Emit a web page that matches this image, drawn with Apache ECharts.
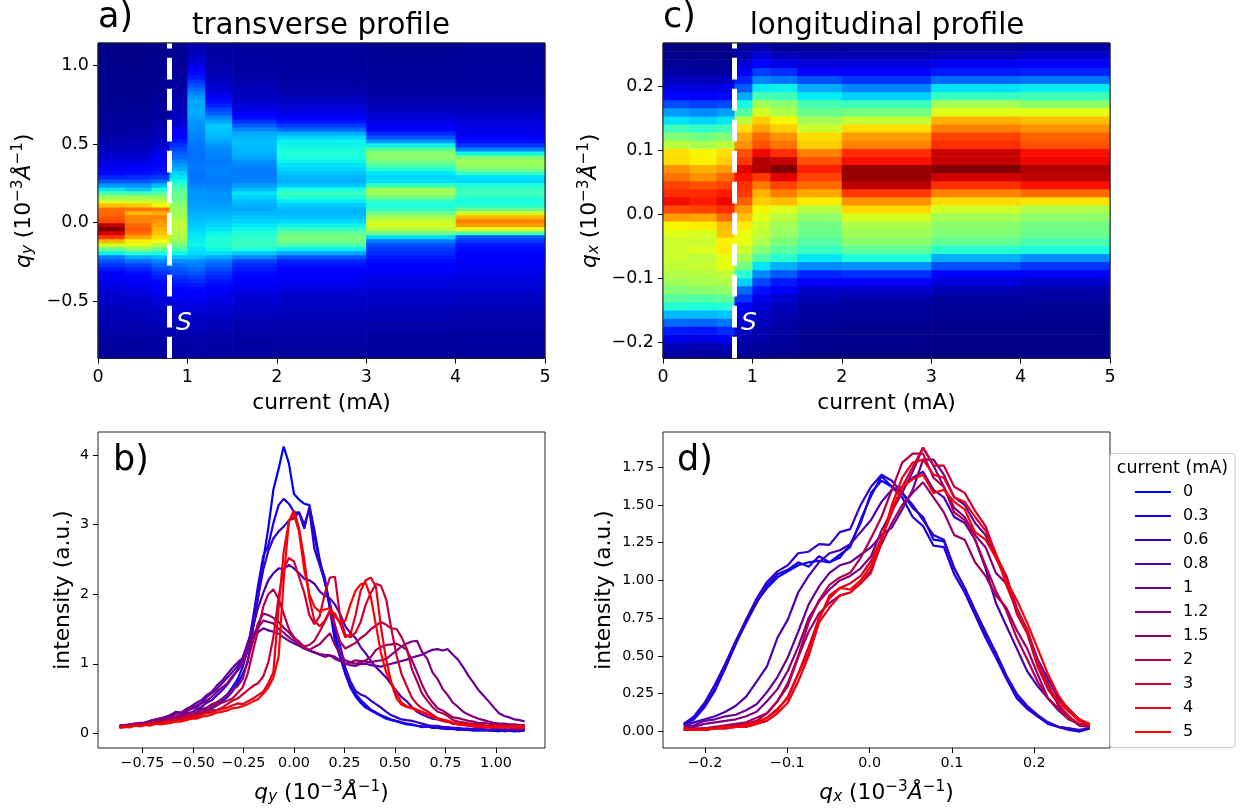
<!DOCTYPE html>
<html><head><meta charset="utf-8">
<script src="https://cdn.jsdelivr.net/npm/echarts@6/dist/echarts.min.js"></script>
<style>html,body{margin:0;padding:0;background:#fff}#c{width:1249px;height:810px}</style>
</head><body><div id="c"></div>
<script>
const currents=[0,0.3,0.6,0.8,1,1.2,1.5,2,3,4,5];
const currentLabels=['0','0.3','0.6','0.8','1','1.2','1.5','2','3','4','5'];
const qyValues=[-.863,-.838,-.812,-.787,-.761,-.736,-.711,-.685,-.660,-.635,
-.609,-.584,-.558,-.533,-.508,-.482,-.457,-.432,-.406,-.381,
-.355,-.330,-.305,-.279,-.254,-.229,-.203,-.178,-.152,-.127,
-.102,-.076,-.051,-.025,0,.025,.051,.076,.101,.127,
.152,.178,.203,.228,.254,.279,.305,.330,.355,.381,
.406,.431,.457,.482,.508,.533,.558,.584,.609,.634,
.660,.685,.711,.736,.761,.787,.812,.838,.863,.888,
.914,.939,.964,.990,1.015,1.041,1.066,1.091,1.117,1.142];
const qxValues=[-.2258,-.2132,-.2005,-.1879,-.1752,-.1626,-.1500,-.1373,-.1247,-.1120,
-.0994,-.0868,-.0741,-.0615,-.0488,-.0362,-.0236,-.0109,.0017,.0144,
.0270,.0396,.0523,.0649,.0776,.0902,.1028,.1155,.1281,.1408,
.1534,.1660,.1787,.1913,.2040,.2166,.2292,.2419,.2545,.2672];

const trans0=[.10,.09,.12,.11,.13,.14,.13,.16,.17,.18,
.20,.21,.20,.24,.26,.25,.30,.33,.36,.40,
.46,.52,.60,.72,.85,1.02,1.50,1.95,2.49,2.95,
3.50,3.80,4.12,3.88,3.44,3.36,3.30,3.28,2.92,2.50,
2.20,1.82,1.45,1.12,.86,.66,.53,.44,.37,.33,
.29,.25,.21,.19,.17,.15,.13,.12,.11,.09,
.10,.08,.08,.07,.06,.07,.05,.06,.05,.04,
.05,.04,.05,.04,.03,.05,.04,.03,.04,.04];
const trans1=[.11,.10,.11,.13,.12,.15,.14,.17,.16,.19,
.21,.20,.23,.26,.25,.29,.34,.35,.40,.44,
.50,.56,.66,.78,.95,1.20,1.65,2.12,2.55,2.70,
3.02,3.28,3.37,3.30,3.18,3.17,2.94,3.25,2.85,2.45,
2.25,1.78,1.32,1.10,.86,.69,.57,.48,.41,.34,
.30,.26,.23,.20,.18,.16,.14,.13,.11,.10,
.10,.09,.08,.07,.07,.06,.06,.05,.05,.05,
.04,.05,.04,.04,.05,.03,.04,.04,.03,.05];
const trans2=[.09,.12,.11,.13,.14,.13,.17,.16,.19,.20,
.22,.24,.26,.30,.30,.34,.38,.44,.48,.55,
.62,.70,.80,.92,1.06,1.28,1.55,1.95,2.35,2.62,
2.80,2.90,2.97,3.06,3.09,3.18,3.00,3.22,2.65,2.42,
2.18,1.87,1.55,1.27,.95,.75,.61,.56,.53,.47,
.42,.37,.31,.26,.23,.20,.19,.18,.16,.14,
.12,.11,.11,.09,.09,.08,.08,.07,.07,.06,
.06,.06,.05,.06,.05,.05,.05,.04,.05,.05];
const trans3=[.12,.10,.13,.12,.15,.14,.18,.20,.19,.24,
.25,.29,.30,.33,.36,.40,.44,.52,.58,.64,
.72,.80,.88,.97,1.08,1.30,1.52,1.80,2.02,2.20,
2.30,2.37,2.36,2.42,2.37,2.30,2.22,2.20,2.15,2.04,
1.98,1.94,1.85,1.72,1.54,1.44,1.37,1.24,1.15,1.04,
.95,.88,.80,.70,.61,.52,.46,.38,.31,.27,
.24,.21,.20,.18,.17,.14,.14,.12,.12,.10,
.10,.09,.09,.08,.08,.07,.08,.07,.07,.07];
const trans4=[.11,.12,.13,.14,.14,.16,.18,.20,.22,.23,
.27,.31,.30,.35,.39,.44,.48,.55,.60,.69,
.76,.85,.94,1.02,1.08,1.28,1.40,1.45,1.51,1.48,
1.46,1.43,1.38,1.33,1.29,1.26,1.22,1.19,1.16,1.14,
1.13,1.12,1.10,1.05,1.00,.98,.97,1.00,1.00,.98,
.97,.96,.98,1.00,1.02,1.04,1.06,1.09,1.11,1.13,
1.17,1.20,1.21,1.19,1.21,1.13,1.06,.95,.83,.73,
.62,.54,.46,.37,.29,.25,.23,.20,.19,.17];
const trans5=[.10,.12,.12,.14,.15,.14,.17,.19,.21,.20,
.25,.28,.29,.32,.35,.37,.43,.47,.53,.60,
.66,.72,.82,.90,1.00,1.20,1.42,1.52,1.62,1.60,
1.58,1.50,1.45,1.38,1.33,1.27,1.22,1.19,1.17,1.13,
1.10,1.12,1.07,1.04,1.00,1.02,1.05,1.04,1.03,1.02,
1.04,1.05,1.07,1.13,1.19,1.25,1.29,1.32,1.33,1.17,
1.07,.88,.78,.64,.55,.44,.38,.31,.27,.24,
.21,.19,.17,.15,.14,.14,.13,.13,.12,.12];
const trans6=[.09,.11,.11,.13,.12,.15,.14,.17,.18,.18,
.22,.23,.26,.27,.30,.30,.35,.37,.42,.45,
.50,.55,.62,.68,.78,1.05,1.32,1.58,1.72,1.70,
1.66,1.60,1.52,1.45,1.37,1.32,1.24,1.20,1.24,1.28,
1.36,1.44,1.27,1.15,1.05,1.02,1.00,1.02,1.05,1.10,
1.20,1.24,1.27,1.28,1.29,1.25,1.20,1.05,.88,.70,
.55,.45,.36,.33,.28,.23,.22,.20,.18,.17,
.15,.15,.14,.13,.13,.12,.12,.12,.12,.12];
const trans7=[.10,.11,.10,.13,.12,.14,.15,.16,.17,.16,
.20,.21,.22,.24,.27,.27,.30,.33,.38,.41,
.44,.47,.50,.58,.66,.86,1.18,1.48,1.82,2.00,
2.07,1.93,1.72,1.50,1.38,1.30,1.25,1.27,1.33,1.46,
1.60,1.75,1.55,1.32,1.22,1.26,1.30,1.37,1.42,1.50,
1.55,1.60,1.56,1.51,1.50,1.38,1.22,.92,.75,.57,
.47,.38,.31,.29,.25,.19,.17,.16,.14,.14,
.13,.12,.11,.11,.10,.10,.11,.10,.10,.10];
const trans8=[.08,.10,.09,.12,.11,.12,.13,.15,.14,.17,
.18,.20,.20,.23,.25,.26,.27,.30,.33,.34,
.37,.42,.47,.50,.56,.62,.68,.72,.82,1.02,
1.38,1.96,2.36,2.52,2.47,2.25,2.02,1.70,1.57,1.68,
2.00,2.24,2.25,1.68,1.42,1.38,1.45,1.60,1.85,2.02,
2.15,2.12,1.92,1.50,1.12,.85,.68,.51,.42,.36,
.32,.27,.22,.20,.18,.15,.13,.12,.11,.10,
.09,.09,.09,.08,.08,.08,.08,.07,.07,.07];
const trans9=[.09,.10,.09,.12,.11,.13,.12,.15,.14,.16,
.17,.18,.19,.22,.22,.24,.27,.29,.30,.33,
.35,.37,.40,.43,.42,.46,.50,.55,.60,.72,
.88,1.80,2.60,3.05,3.20,2.95,2.50,1.95,1.62,1.54,
1.62,1.77,1.72,1.58,1.38,1.42,1.70,2.05,2.20,2.24,
2.10,1.52,1.05,.73,.57,.44,.39,.37,.34,.31,
.28,.25,.21,.18,.17,.14,.14,.13,.12,.11,
.11,.10,.10,.10,.09,.10,.09,.09,.10,.10];
const trans10=[.08,.09,.09,.11,.10,.12,.11,.14,.13,.14,
.15,.17,.17,.19,.21,.21,.24,.25,.27,.30,
.31,.33,.36,.37,.39,.42,.46,.49,.57,.66,
.80,1.10,2.20,3.05,3.14,2.90,2.35,2.00,1.82,1.75,
1.78,1.80,1.68,1.60,1.62,1.85,2.05,2.14,2.16,1.95,
1.55,1.15,.87,.72,.50,.41,.38,.36,.33,.30,
.27,.24,.21,.19,.18,.15,.13,.13,.12,.11,
.10,.11,.09,.10,.10,.09,.09,.10,.10,.10];

const long0=[.05,.09,.17,.28,.43,.58,.74,.86,.95,1.02,
1.06,1.10,1.12,1.13,1.12,1.17,1.22,1.40,1.56,1.69,
1.62,1.58,1.48,1.42,1.27,1.26,1.08,.95,.80,.65,
.52,.37,.24,.16,.10,.06,.03,.02,0,.02];
const long1=[.04,.08,.16,.27,.42,.58,.72,.85,.97,1.04,
1.07,1.12,1.09,1.16,1.12,1.15,1.24,1.38,1.58,1.66,
1.62,1.55,1.42,1.36,1.23,1.22,1.04,.92,.77,.62,
.49,.35,.22,.15,.10,.05,.03,.01,0,.02];
const long2=[.05,.10,.19,.31,.45,.60,.74,.88,.99,1.06,
1.10,1.18,1.19,1.24,1.235,1.32,1.34,1.50,1.62,1.70,
1.66,1.58,1.50,1.40,1.30,1.27,1.08,.95,.80,.66,
.52,.37,.25,.17,.11,.06,.03,.02,.01,.02];
const long3=[.04,.06,.08,.10,.13,.17,.23,.33,.43,.62,
.74,.92,1.03,1.12,1.18,1.20,1.24,1.32,1.40,1.52,
1.60,1.62,1.68,1.72,1.60,1.55,1.42,1.38,1.27,1.08,
.85,.70,.55,.40,.30,.22,.14,.08,.05,.04];
const long4=[.03,.04,.07,.08,.10,.11,.14,.18,.26,.36,
.49,.66,.84,.96,1.05,1.10,1.12,1.17,1.22,1.30,
1.35,1.47,1.60,1.80,1.80,1.70,1.55,1.50,1.38,1.30,
1.15,1.03,.82,.67,.48,.35,.22,.15,.08,.04];
const long5=[.02,.03,.05,.06,.07,.08,.10,.13,.20,.28,
.40,.56,.75,.86,.94,1.00,1.03,1.08,1.16,1.33,
1.46,1.58,1.72,1.88,1.76,1.62,1.48,1.42,1.30,1.22,
1.05,.98,.80,.68,.45,.32,.17,.10,.04,.03];
const long6=[.01,.02,.02,.03,.04,.05,.06,.09,.12,.20,
.30,.49,.66,.78,.85,.90,.92,.98,1.07,1.24,
1.38,1.50,1.58,1.65,1.55,1.45,1.30,1.27,1.12,1.03,
.90,.82,.67,.55,.38,.22,.15,.09,.04,.03];
const long7=[.01,.01,.02,.02,.03,.04,.05,.07,.12,.20,
.32,.50,.72,.87,.97,1.02,1.05,1.15,1.28,1.42,
1.60,1.78,1.84,1.84,1.68,1.62,1.45,1.40,1.27,1.10,
.93,.80,.62,.48,.33,.22,.15,.08,.05,.04];
const long8=[.01,.01,.01,.02,.02,.03,.04,.05,.09,.15,
.22,.38,.56,.75,.88,.95,.98,1.03,1.13,1.28,
1.45,1.62,1.75,1.88,1.76,1.76,1.62,1.58,1.46,1.36,
1.17,1.03,.78,.65,.43,.28,.18,.10,.05,.04];
const long9=[.02,.01,.01,.02,.02,.03,.03,.05,.07,.12,
.19,.33,.50,.72,.82,.90,.92,.98,1.05,1.26,
1.50,1.68,1.78,1.80,1.70,1.68,1.55,1.52,1.42,1.33,
1.18,.97,.80,.67,.45,.30,.20,.13,.07,.05];
const long10=[.02,.01,.01,.02,.03,.03,.04,.06,.09,.14,
.23,.38,.52,.74,.90,.95,.94,1.00,1.10,1.27,
1.47,1.62,1.67,1.70,1.58,1.60,1.52,1.47,1.32,1.27,
1.15,1.00,.87,.72,.55,.38,.24,.14,.08,.05];

const transverse=[trans0,trans1,trans2,trans3,trans4,trans5,trans6,trans7,trans8,trans9,trans10];
const longitudinal=[long0,long1,long2,long3,long4,long5,long6,long7,long8,long9,long10];
const currentTicks=[0,1,2,3,4,5];
const aYTicks=[-0.5,0,0.5,1.0];
const cYTicks=[-0.2,-0.1,0,0.1,0.2];
const bXTicks=[-0.75,-0.5,-0.25,0,0.25,0.5,0.75,1.0];
const bYTicks=[0,1,2,3,4];
const dXTicks=[-0.2,-0.1,0,0.1,0.2];
const dYTicks=[0,0.25,0.5,0.75,1,1.25,1.5,1.75];
const separatrix=0.8;

function jet(t){t=Math.max(0,Math.min(1,t));
 const r=t<.35?0:t<.66?(t-.35)/.31:t<.89?1:1-(t-.89)/.11*.5;
 const g=t<.125?0:t<.375?(t-.125)/.25:t<.64?1:t<.91?1-(t-.64)/.27:0;
 const b=t<.11?.5+t/.11*.5:t<.34?1:t<.65?1-(t-.34)/.31:0;
 return 'rgb('+[r,g,b].map(v=>Math.round(v*255)).join(',')+')';}
function lineColor(i){const f=i/10;return 'rgb('+Math.round(255*f)+',0,'+Math.round(255*(1-f))+')';}

const font='"DejaVu Sans"';
const base={fontFamily:font,color:'#000'};
const NAME=21.8;
function fmt(d){return v=>{const s=Math.abs(v).toFixed(d);return (v<0?'\u2212':'')+s;};}
function labelRich(sz){return {
 i:{...base,fontSize:sz,fontStyle:'italic'},
 t:{...base,fontSize:sz},
 s:{...base,fontSize:sz*0.7,fontStyle:'italic',padding:[9,0,0,0]},
 u:{...base,fontSize:sz*0.7,padding:[0,0,11,0]}};}
function qName(sub){return '{i|q}{s|'+sub+'}{t| (10}{u|\u22123}{i|\u00c5}{u|\u22121}{t|)}';}

const panels=[
 {left:98,top:43,w:447,h:315.5},{left:98,top:432,w:447,h:316},
 {left:663,top:43,w:447,h:315.5},{left:663,top:432,w:447,h:316}];
const grid=panels.map(p=>({left:p.left,top:p.top,width:p.w,height:p.h,show:true,borderColor:'#222',borderWidth:1,backgroundColor:'#fff'}));
function axis(gi,type,min,max,ticks,dec,size,name,gap,rot,mar){
 return {type:'value',gridIndex:gi,min,max,scale:true,
  axisLine:{show:false,onZero:false},splitLine:{show:false},
  axisTick:{show:true,length:5,inside:false,customValues:ticks,lineStyle:{color:'#000',width:1}},
  axisLabel:{show:true,customValues:ticks,fontFamily:font,color:'#000',fontSize:size,margin:mar,
   padding:type==='y'?[4,0,0,0]:0,formatter:fmt(dec)},
  name,nameLocation:'middle',nameGap:gap,nameRotate:rot,
  nameTextStyle:{...base,fontSize:NAME,rich:labelRich(NAME)}};
}
const xAxis=[
 axis(0,'x',0,5,currentTicks,0,17.5,'current (mA)',34,0,9.5),
 axis(1,'x',-0.970,1.2426,bXTicks,2,14.3,qName('y'),32,0,8),
 axis(2,'x',0,5,currentTicks,0,17.5,'current (mA)',34,0,9.5),
 axis(3,'x',-0.251,0.292,dXTicks,1,14.3,qName('x'),32,0,8)];
const yAxis=[
 axis(0,'y',-0.863,1.142,aYTicks,1,17.5,qName('y'),61,90,9),
 axis(1,'y',-0.21,4.33,bYTicks,0,14.3,'intensity (a.u.)',24,90,9),
 axis(2,'y',-0.2258,0.2672,cYTicks,1,17.5,qName('x'),60,90,9),
 axis(3,'y',-0.11,1.983,dYTicks,2,14.3,'intensity (a.u.)',48,90,9)];

function heatSeries(gi,q,table,vmax){
 const data=[];
 for(let c=0;c<currents.length-1;c++)for(let r=0;r<q.length-1;r++)data.push([c,r,table[c][r]]);
 return {type:'custom',xAxisIndex:gi,yAxisIndex:gi,silent:true,clip:true,z:1,
  data,encode:{x:0,y:1},
  renderItem(params,api){
   const c=api.value(0),r=api.value(1);
   const a=api.coord([currents[c],q[r]]),b=api.coord([currents[c+1],q[r+1]]);
   return {type:'rect',shape:{x:a[0],y:b[1],width:b[0]-a[0]+0.6,height:a[1]-b[1]+0.6},
    style:{fill:jet(api.value(2)/vmax),stroke:null}};
  }};
}
function sepSeries(gi,ymin,ymax){
 return {type:'line',xAxisIndex:gi,yAxisIndex:gi,data:[[separatrix,ymin],[separatrix,ymax]],symbol:'none',z:5,silent:true,
  lineStyle:{color:'#fff',width:5,type:[21.7,9.3]}};
}
function lineSeries(gi,q,table){
 return table.map((vals,i)=>({type:'line',name:currentLabels[i],xAxisIndex:gi,yAxisIndex:gi,
  data:vals.map((v,j)=>[q[j],v]),symbol:'none',showSymbol:false,silent:true,z:3,
  lineStyle:{color:lineColor(i),width:2.2},itemStyle:{color:lineColor(i)}}));
}
const series=[
 heatSeries(0,qyValues,transverse,4.12),
 sepSeries(0,-0.863,1.142),
 heatSeries(2,qxValues,longitudinal,1.88),
 sepSeries(2,-0.2258,0.2672),
 ...lineSeries(1,qyValues,transverse),
 ...lineSeries(3,qxValues,longitudinal)];

function txt(x,y,s,size,opt){return {type:'text',x,y,z:10,silent:true,
 style:{text:s,fontFamily:font,fontSize:size,fill:'#000',textAlign:'left',textVerticalAlign:'middle',...opt}};}
function frame(p){return {type:'rect',z:9,silent:true,shape:{x:p.left,y:p.top,width:p.w,height:p.h},
 style:{fill:'none',stroke:'#222',lineWidth:1}};}
const graphic=[
 frame(panels[0]),frame(panels[2]),
 txt(98,18,'a)',35),
 txt(663,18,'c)',35),
 txt(113,461,'b)',35),
 txt(677,461,'d)',35),
 txt(321,26,'transverse profile',29.3,{textAlign:'center'}),
 txt(887,26,'longitudinal profile',29.3,{textAlign:'center'}),
 txt(176,323,'S',25,{fill:'#fff',fontStyle:'italic'}),
 txt(741,323,'S',25,{fill:'#fff',fontStyle:'italic'}),
 {type:'rect',z:5,silent:true,shape:{x:1110,y:453.5,width:125,height:294,r:3},style:{fill:'#fff',stroke:'#ccc',lineWidth:1}},
 txt(1172.5,468,'current (mA)',17.5,{textAlign:'center'})
];
const chart=echarts.init(document.getElementById('c'),null,{renderer:'canvas'});
chart.setOption({animation:false,backgroundColor:'#fff',grid,xAxis,yAxis,series,graphic,
 tooltip:{show:false},
 legend:{show:true,data:currentLabels,orient:'vertical',left:1135,top:484,padding:0,itemWidth:36,itemHeight:2,itemGap:8,
  selectedMode:false,z:8,icon:'rect',
  textStyle:{fontFamily:font,fontSize:16,color:'#000',padding:[0,0,0,7]}}
});
</script></body></html>
